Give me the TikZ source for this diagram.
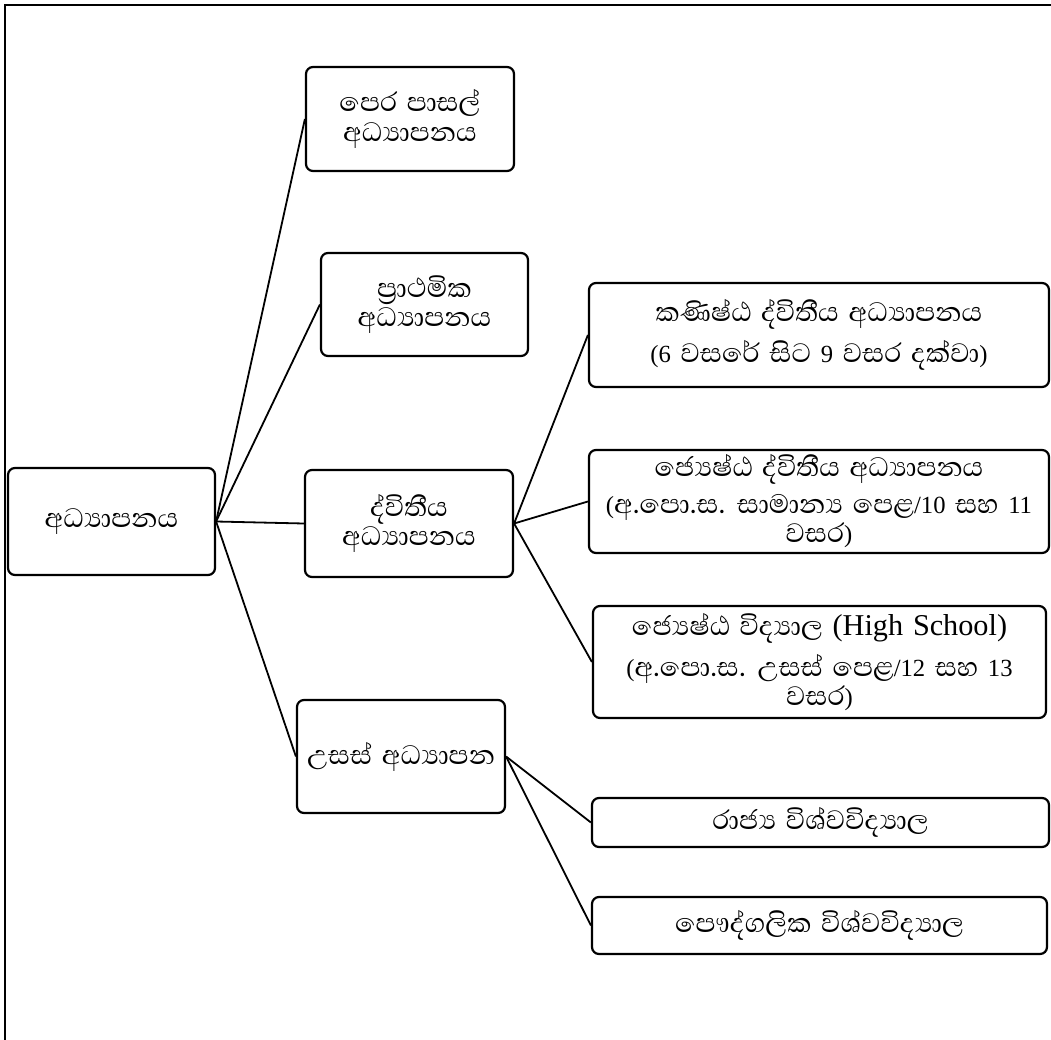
\documentclass[tikz,border=0pt]{standalone}
\usepackage{fontspec}
\setmainfont[Script=Sinhala,Scale=1.55,WordSpace=1.5]{Abhaya Libre}
\newfontfamily\lat[Scale=1.12,WordSpace=1.3]{Liberation Serif}
\tikzset{
  box/.style={draw=black, line width=2.2pt, rounded corners=7pt, inner sep=0pt, align=center, font=\fontsize{22}{29.5}\selectfont},
  conn/.style={draw=black, line width=1.8pt},
  frameline/.style={draw=black, line width=1.6pt}
}
\begin{document}
\begin{tikzpicture}[x=1pt,y=-1pt]
\useasboundingbox (0,0) rectangle (1051,1040);
\draw[frameline] (5,1040) -- (5,5) -- (1051,5);

\node[box, minimum width=207pt, minimum height=107pt] (root) at (111.5,521.5) {අධ්^^^^200dයාපනය};
\node[box, minimum width=208pt, minimum height=104pt] (pre) at (410,119) {පෙර පාසල්\\අධ්^^^^200dයාපනය};
\node[box, minimum width=207pt, minimum height=103pt] (prim) at (424.5,304.5) {ප්^^^^200dරාථමික\\අධ්^^^^200dයාපනය};
\node[box, minimum width=208pt, minimum height=107pt] (sec) at (409,523.5) {ද්විතීය\\අධ්^^^^200dයාපනය};
\node[box, minimum width=208pt, minimum height=113pt] (tert) at (401,756.5) {උසස් අධ්^^^^200dයාපන};

\node[box, minimum width=460pt, minimum height=104pt] (jun) at (819,335) {කණිෂ්ඨ ද්විතීය අධ්^^^^200dයාපනය\\[10pt]{\lat (6} වසරේ සිට {\lat 9} වසර දක්වා{\lat )}};
\node[box, minimum width=460pt, minimum height=103pt] (sen) at (819,501.5) {ජ්^^^^200dයෙෂ්ඨ ද්විතීය අධ්^^^^200dයාපනය\\[7pt]{\lat (}අ.පො.ස. සාමාන්^^^^200dය පෙළ{\lat /10} සහ {\lat 11}\\වසර{\lat )}};
\node[box, minimum width=453pt, minimum height=112pt] (hs) at (819.5,662) {ජ්^^^^200dයෙෂ්ඨ විද්^^^^200dයාල {\lat\fontsize{27}{29}\selectfont (High School)}\\[10pt]{\lat (}අ.පො.ස. උසස් පෙළ{\lat /12} සහ {\lat 13}\\වසර{\lat )}};
\node[box, minimum width=457pt, minimum height=49pt] (state) at (820.5,822.5) {රාජ්^^^^200dය විශ්වවිද්^^^^200dයාල};
\node[box, minimum width=455pt, minimum height=57pt] (priv) at (819.5,925.5) {පෞද්ගලික විශ්වවිද්^^^^200dයාල};

\draw[conn] (root.east) -- (pre.west);
\draw[conn] (root.east) -- (prim.west);
\draw[conn] (root.east) -- (sec.west);
\draw[conn] (root.east) -- (tert.west);
\draw[conn] (sec.east) -- (jun.west);
\draw[conn] (sec.east) -- (sen.west);
\draw[conn] (sec.east) -- (hs.west);
\draw[conn] (tert.east) -- (state.west);
\draw[conn] (tert.east) -- (priv.west);
\end{tikzpicture}
\end{document}
